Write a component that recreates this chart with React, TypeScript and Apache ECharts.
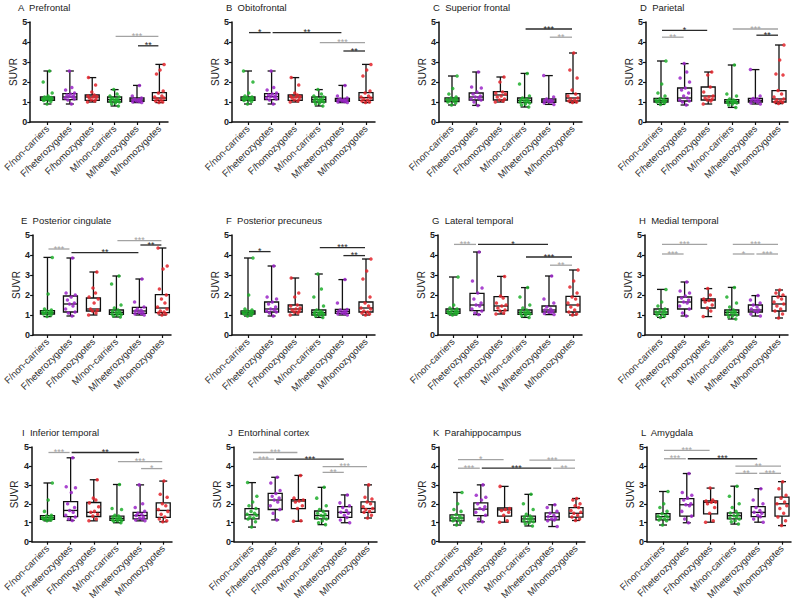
import React, { useEffect, useRef } from 'react';
import * as echarts from 'echarts';

const CATEGORIES = ['F/non-carriers', 'F/heterozygotes', 'F/homozygotes', 'M/non-carriers', 'M/heterozygotes', 'M/homozygotes'];
const GROUP_COLORS = ['#1fae2c', '#9b26c8', '#e3242b', '#1fae2c', '#9b26c8', '#e3242b'];
const TITLES = ['A  Prefrontal', 'B  Obitofrontal', 'C  Superior frontal', 'D  Parietal', 'E  Posterior cingulate', 'F  Posterior precuneus', 'G  Lateral temporal', 'H  Medial temporal', 'I  Inferior temporal', 'J  Entorhinal cortex', 'K  Parahippocampus', 'L  Amygdala'];
const Y_TICKS = [0, 1, 2, 3, 4, 5];

// box stats: [min, q1, median, q3, max]
const A_BOX = [[0.9, 1.08, 1.15, 1.25, 2.55], [0.9, 1.12, 1.25, 1.42, 2.55], [1.0, 1.08, 1.25, 1.35, 2.22], [0.8, 1.0, 1.12, 1.25, 1.62], [0.97, 1.03, 1.1, 1.2, 1.83], [0.97, 1.08, 1.2, 1.47, 2.88]];
const B_BOX = [[0.9, 1.08, 1.15, 1.25, 2.55], [0.9, 1.12, 1.27, 1.42, 2.55], [1.0, 1.08, 1.25, 1.35, 2.22], [0.8, 1.0, 1.12, 1.25, 1.62], [0.97, 1.03, 1.1, 1.18, 1.83], [0.97, 1.08, 1.22, 1.47, 2.88]];
const C_BOX = [[0.85, 1.02, 1.1, 1.2, 2.3], [0.83, 1.1, 1.25, 1.45, 2.5], [1.0, 1.1, 1.35, 1.52, 2.25], [0.75, 0.97, 1.08, 1.2, 2.43], [0.88, 0.98, 1.05, 1.15, 2.32], [0.97, 1.05, 1.2, 1.42, 3.45]];
const D_BOX = [[0.88, 1.0, 1.08, 1.18, 3.05], [0.85, 1.05, 1.2, 1.7, 2.92], [0.9, 1.1, 1.3, 1.75, 2.5], [0.73, 0.95, 1.02, 1.12, 2.85], [0.9, 1.0, 1.08, 1.18, 2.62], [0.92, 1.0, 1.15, 1.57, 3.85]];
const E_BOX = [[0.92, 1.05, 1.12, 1.22, 3.88], [0.95, 1.15, 1.55, 1.95, 3.85], [1.0, 1.2, 1.3, 1.85, 3.15], [0.9, 1.03, 1.13, 1.25, 2.95], [1.0, 1.08, 1.2, 1.38, 2.8], [1.0, 1.12, 1.35, 2.02, 4.35]];
const F_BOX = [[0.95, 1.05, 1.12, 1.2, 3.85], [0.95, 1.15, 1.3, 1.65, 3.45], [1.0, 1.15, 1.3, 1.5, 2.85], [0.88, 1.0, 1.12, 1.25, 3.05], [1.0, 1.08, 1.18, 1.28, 2.77], [1.0, 1.15, 1.35, 1.65, 3.8]];
const G_BOX = [[1.0, 1.08, 1.18, 1.3, 2.9], [1.02, 1.22, 1.5, 2.08, 4.15], [1.05, 1.22, 1.45, 1.92, 2.93], [0.88, 1.03, 1.13, 1.25, 2.37], [1.02, 1.15, 1.25, 1.45, 2.95], [1.0, 1.15, 1.5, 1.93, 3.25]];
const H_BOX = [[0.88, 1.03, 1.15, 1.3, 2.28], [0.95, 1.3, 1.65, 1.9, 2.65], [0.92, 1.35, 1.72, 1.8, 2.32], [0.8, 1.0, 1.13, 1.25, 2.38], [0.95, 1.15, 1.25, 1.5, 1.97], [0.85, 1.2, 1.55, 1.93, 2.25]];
const I_BOX = [[1.1, 1.18, 1.27, 1.38, 3.1], [1.12, 1.32, 1.65, 2.12, 4.43], [1.1, 1.33, 1.55, 2.07, 3.27], [1.0, 1.12, 1.23, 1.35, 3.02], [1.1, 1.2, 1.38, 1.55, 3.0], [1.05, 1.28, 1.65, 2.05, 3.2]];
const J_BOX = [[0.77, 1.2, 1.42, 1.75, 3.12], [1.15, 1.7, 2.2, 2.55, 3.4], [1.08, 1.75, 2.15, 2.22, 3.5], [0.9, 1.2, 1.38, 1.62, 2.87], [1.0, 1.28, 1.55, 1.85, 2.47], [1.25, 1.55, 1.75, 2.1, 3.0]];
const K_BOX = [[0.88, 1.1, 1.25, 1.42, 2.6], [1.05, 1.38, 1.72, 2.05, 3.0], [1.03, 1.35, 1.68, 1.78, 2.92], [0.83, 1.05, 1.2, 1.35, 2.5], [0.8, 1.15, 1.32, 1.52, 1.95], [1.12, 1.3, 1.5, 1.8, 2.28]];
const L_BOX = [[0.88, 1.15, 1.32, 1.48, 2.65], [1.0, 1.35, 1.95, 2.27, 3.6], [1.03, 1.47, 2.08, 2.15, 2.83], [0.93, 1.2, 1.37, 1.52, 2.93], [1.03, 1.32, 1.55, 1.85, 2.8], [0.85, 1.35, 2.0, 2.35, 3.17]];

// individual SUVR points per group
const A_PTS = [
  [0.9, 1.02, 1.08, 1.1, 1.12, 1.15, 1.15, 1.18, 1.2, 1.22, 1.25, 1.3, 1.45, 2.0, 2.55],
  [0.9, 1.1, 1.15, 1.2, 1.25, 1.28, 1.3, 1.35, 1.4, 1.45, 1.6, 1.72, 2.55],
  [1.0, 1.05, 1.1, 1.15, 1.2, 1.25, 1.28, 1.3, 1.35, 1.5, 1.85, 2.22],
  [0.8, 0.9, 0.95, 1.0, 1.02, 1.05, 1.08, 1.1, 1.12, 1.15, 1.2, 1.25, 1.3, 1.4, 1.62],
  [0.97, 1.0, 1.03, 1.05, 1.08, 1.1, 1.12, 1.15, 1.2, 1.3, 1.83],
  [0.97, 1.0, 1.05, 1.1, 1.15, 1.2, 1.25, 1.3, 1.45, 1.55, 2.4, 2.6, 2.88],
];
const B_PTS = [
  [0.9, 1.02, 1.08, 1.1, 1.12, 1.15, 1.17, 1.2, 1.22, 1.25, 1.3, 1.45, 2.0, 2.55],
  [0.9, 1.1, 1.15, 1.2, 1.25, 1.28, 1.3, 1.35, 1.4, 1.45, 1.6, 1.72, 2.55],
  [1.0, 1.05, 1.1, 1.15, 1.2, 1.25, 1.28, 1.3, 1.35, 1.45, 1.85, 2.22],
  [0.8, 0.9, 0.95, 1.0, 1.02, 1.05, 1.08, 1.1, 1.12, 1.15, 1.2, 1.25, 1.3, 1.4, 1.62],
  [0.97, 1.0, 1.03, 1.05, 1.08, 1.1, 1.12, 1.15, 1.2, 1.3, 1.83],
  [0.97, 1.0, 1.05, 1.1, 1.15, 1.2, 1.25, 1.3, 1.45, 1.55, 2.3, 2.6, 2.88],
];
const C_PTS = [
  [0.85, 0.95, 1.0, 1.05, 1.08, 1.1, 1.12, 1.15, 1.2, 1.25, 1.4, 1.68, 2.3],
  [0.83, 1.0, 1.1, 1.15, 1.2, 1.25, 1.3, 1.4, 1.5, 1.7, 1.75, 2.5],
  [1.0, 1.05, 1.1, 1.15, 1.25, 1.3, 1.4, 1.45, 1.5, 2.0, 2.25],
  [0.75, 0.85, 0.9, 0.95, 1.0, 1.02, 1.05, 1.08, 1.1, 1.15, 1.2, 1.3, 1.9, 2.43],
  [0.88, 0.95, 1.0, 1.02, 1.05, 1.08, 1.1, 1.15, 1.25, 2.32],
  [0.97, 1.0, 1.05, 1.1, 1.15, 1.2, 1.3, 1.4, 1.6, 2.2, 2.6, 3.45],
];
const D_PTS = [
  [0.88, 0.95, 1.0, 1.02, 1.05, 1.08, 1.1, 1.12, 1.18, 1.3, 1.45, 1.9, 3.05],
  [0.85, 1.0, 1.05, 1.1, 1.2, 1.3, 1.45, 1.6, 1.7, 2.0, 2.2, 2.5, 2.92],
  [0.9, 1.05, 1.1, 1.15, 1.2, 1.25, 1.3, 1.5, 1.75, 2.35, 2.5],
  [0.73, 0.85, 0.9, 0.95, 0.98, 1.0, 1.02, 1.05, 1.08, 1.1, 1.15, 1.3, 1.4, 2.85],
  [0.9, 0.95, 1.0, 1.05, 1.08, 1.1, 1.15, 1.18, 1.3, 2.62],
  [0.92, 0.97, 1.0, 1.05, 1.1, 1.15, 1.25, 1.4, 1.57, 2.35, 2.4, 3.1, 3.85],
];
const E_PTS = [
  [0.92, 1.0, 1.05, 1.08, 1.1, 1.12, 1.15, 1.18, 1.2, 1.25, 1.3, 2.05, 3.88],
  [0.95, 1.1, 1.15, 1.3, 1.45, 1.55, 1.6, 1.75, 1.9, 2.0, 2.1, 3.85],
  [1.0, 1.1, 1.2, 1.25, 1.3, 1.6, 1.8, 1.9, 2.1, 2.35, 3.15],
  [0.9, 0.95, 1.0, 1.03, 1.05, 1.1, 1.12, 1.15, 1.2, 1.25, 1.35, 1.5, 2.55, 2.95],
  [1.0, 1.05, 1.08, 1.12, 1.15, 1.2, 1.25, 1.3, 1.4, 1.65, 2.8],
  [1.0, 1.05, 1.1, 1.15, 1.2, 1.3, 1.4, 1.6, 1.8, 2.0, 2.3, 3.3, 3.45, 4.35],
];
const F_PTS = [
  [0.95, 1.0, 1.05, 1.08, 1.1, 1.12, 1.15, 1.18, 1.2, 1.25, 1.3, 2.0, 3.85],
  [0.95, 1.1, 1.15, 1.2, 1.25, 1.3, 1.4, 1.55, 1.65, 1.8, 1.9, 3.45],
  [1.0, 1.1, 1.15, 1.2, 1.25, 1.3, 1.35, 1.45, 1.5, 1.9, 2.1, 2.85],
  [0.88, 0.95, 1.0, 1.03, 1.05, 1.08, 1.1, 1.12, 1.15, 1.2, 1.25, 1.45, 1.9, 2.3, 3.05],
  [1.0, 1.05, 1.08, 1.1, 1.15, 1.18, 1.2, 1.25, 1.28, 1.6, 2.77],
  [1.0, 1.05, 1.1, 1.15, 1.2, 1.3, 1.35, 1.45, 1.6, 1.9, 2.8, 3.2, 3.8],
];
const G_PTS = [
  [1.0, 1.05, 1.08, 1.1, 1.12, 1.15, 1.18, 1.2, 1.25, 1.3, 1.35, 1.5, 2.9],
  [1.02, 1.1, 1.2, 1.3, 1.45, 1.5, 1.6, 1.8, 2.1, 2.35, 2.7, 4.15],
  [1.05, 1.1, 1.2, 1.25, 1.35, 1.45, 1.5, 1.6, 1.85, 1.95, 2.93],
  [0.88, 0.95, 1.0, 1.05, 1.08, 1.1, 1.13, 1.15, 1.2, 1.25, 1.35, 1.5, 1.9, 2.37],
  [1.02, 1.08, 1.12, 1.15, 1.2, 1.25, 1.3, 1.4, 1.6, 1.8, 2.95],
  [1.0, 1.05, 1.15, 1.25, 1.4, 1.5, 1.6, 1.8, 1.9, 2.1, 2.4, 2.7, 3.25],
];
const H_PTS = [
  [0.88, 0.95, 1.0, 1.05, 1.1, 1.13, 1.15, 1.2, 1.25, 1.3, 1.45, 1.65, 2.28],
  [0.95, 1.1, 1.3, 1.45, 1.6, 1.65, 1.75, 1.85, 1.95, 2.1, 2.2, 2.65],
  [0.92, 1.2, 1.35, 1.5, 1.65, 1.72, 1.75, 1.8, 2.0, 2.32],
  [0.8, 0.9, 0.95, 1.0, 1.05, 1.1, 1.13, 1.15, 1.2, 1.25, 1.4, 1.6, 1.9, 2.38],
  [0.95, 1.05, 1.15, 1.2, 1.25, 1.3, 1.4, 1.5, 1.6, 1.75, 1.97],
  [0.85, 1.05, 1.2, 1.3, 1.45, 1.55, 1.65, 1.8, 1.9, 2.0, 2.1, 2.25],
];
const I_PTS = [
  [1.1, 1.15, 1.18, 1.2, 1.22, 1.25, 1.27, 1.3, 1.35, 1.4, 1.6, 2.2, 3.1],
  [1.12, 1.2, 1.3, 1.4, 1.55, 1.65, 1.8, 2.0, 2.6, 2.85, 2.9, 4.43],
  [1.1, 1.2, 1.35, 1.45, 1.55, 1.6, 1.85, 2.05, 2.2, 2.3, 3.27],
  [1.0, 1.08, 1.1, 1.12, 1.15, 1.2, 1.23, 1.25, 1.3, 1.35, 1.4, 1.7, 1.75, 3.02],
  [1.1, 1.15, 1.2, 1.25, 1.3, 1.38, 1.45, 1.5, 1.6, 1.8, 2.0, 3.0],
  [1.05, 1.1, 1.2, 1.3, 1.45, 1.6, 1.7, 1.9, 2.0, 2.35, 2.5, 3.2],
];
const J_PTS = [
  [0.77, 1.05, 1.2, 1.25, 1.3, 1.4, 1.45, 1.5, 1.6, 1.75, 1.9, 2.1, 2.4, 3.12],
  [1.15, 1.5, 1.7, 1.9, 2.1, 2.2, 2.3, 2.4, 2.55, 2.7, 3.1, 3.4],
  [1.08, 1.1, 1.75, 1.9, 2.1, 2.15, 2.2, 2.3, 3.5],
  [0.9, 1.0, 1.1, 1.2, 1.25, 1.3, 1.38, 1.45, 1.5, 1.6, 1.7, 1.9, 2.3, 2.87],
  [1.0, 1.15, 1.28, 1.4, 1.5, 1.55, 1.65, 1.8, 1.9, 2.05, 2.47],
  [1.25, 1.4, 1.55, 1.6, 1.7, 1.75, 1.85, 2.0, 2.1, 2.25, 2.35, 3.0],
];
const K_PTS = [
  [0.88, 1.0, 1.1, 1.15, 1.2, 1.25, 1.3, 1.35, 1.42, 1.6, 1.7, 2.0, 2.6],
  [1.05, 1.2, 1.4, 1.55, 1.7, 1.75, 1.85, 2.0, 2.2, 2.35, 2.45, 3.0],
  [1.03, 1.1, 1.4, 1.55, 1.65, 1.7, 1.75, 2.92],
  [0.83, 0.95, 1.0, 1.05, 1.1, 1.15, 1.2, 1.25, 1.3, 1.35, 1.45, 1.7, 2.0, 2.5],
  [0.8, 1.1, 1.15, 1.2, 1.25, 1.32, 1.4, 1.5, 1.6, 1.8, 1.95],
  [1.12, 1.2, 1.3, 1.4, 1.5, 1.55, 1.65, 1.8, 1.9, 2.0, 2.2, 2.28],
];
const L_PTS = [
  [0.88, 1.1, 1.15, 1.2, 1.25, 1.3, 1.35, 1.4, 1.48, 1.6, 1.8, 2.0, 2.65],
  [1.0, 1.2, 1.35, 1.6, 1.9, 1.95, 2.0, 2.2, 2.3, 2.45, 2.6, 3.6],
  [1.03, 1.1, 1.5, 1.8, 2.0, 2.08, 2.1, 2.15, 2.2, 2.83],
  [0.93, 1.05, 1.1, 1.2, 1.25, 1.3, 1.37, 1.45, 1.52, 1.6, 1.8, 2.0, 2.4, 2.93],
  [1.03, 1.2, 1.32, 1.4, 1.5, 1.55, 1.65, 1.8, 2.0, 2.2, 2.8],
  [0.85, 1.1, 1.3, 1.5, 1.75, 1.9, 2.0, 2.1, 2.3, 2.45, 2.8, 3.17],
];

// significance brackets: [fromGroup, toGroup, y, stars, dark(1)/grey(0)]
const A_SIG = [[3, 5, 4.28, '***', 0], [4, 5, 3.81, '**', 1]];
const B_SIG = [[0, 1, 4.47, '*', 1], [1, 4, 4.47, '**', 1], [3, 5, 3.97, '***', 0], [4, 5, 3.55, '**', 1]];
const C_SIG = [[3, 5, 4.65, '***', 1], [4, 5, 4.24, '**', 0]];
const D_SIG = [[0, 1, 4.24, '**', 0], [0, 2, 4.58, '*', 1], [3, 5, 4.65, '***', 0], [4, 5, 4.34, '**', 1]];
const E_SIG = [[0, 1, 4.3, '***', 0], [1, 4, 4.12, '**', 1], [3, 5, 4.72, '***', 0], [4, 5, 4.5, '**', 1]];
const F_SIG = [[0, 1, 4.17, '*', 1], [3, 5, 4.37, '***', 1], [4, 5, 3.97, '**', 1]];
const G_SIG = [[0, 1, 4.53, '***', 0], [1, 4, 4.53, '*', 1], [3, 5, 3.9, '***', 1], [4, 5, 3.49, '**', 0]];
const H_SIG = [[0, 2, 4.53, '***', 0], [0, 1, 4.05, '***', 0], [3, 5, 4.53, '***', 0], [3, 4, 4.05, '*', 0], [4, 5, 4.05, '***', 0]];
const I_SIG = [[0, 1, 4.71, '***', 0], [1, 4, 4.71, '**', 1], [3, 5, 4.23, '***', 0], [4, 5, 3.86, '*', 0]];
const J_SIG = [[0, 2, 4.71, '***', 0], [0, 1, 4.36, '***', 0], [1, 4, 4.36, '***', 1], [3, 5, 3.96, '***', 0], [3, 4, 3.66, '**', 0]];
const K_SIG = [[0, 2, 4.33, '*', 0], [0, 1, 3.88, '***', 0], [1, 4, 3.88, '***', 1], [3, 5, 4.31, '***', 0], [4, 5, 3.88, '**', 0]];
const L_SIG = [[0, 2, 4.82, '***', 0], [0, 1, 4.38, '***', 0], [1, 4, 4.38, '***', 1], [3, 5, 3.99, '**', 0], [3, 4, 3.61, '**', 0], [4, 5, 3.61, '***', 0]];

const BOXES = [A_BOX, B_BOX, C_BOX, D_BOX, E_BOX, F_BOX, G_BOX, H_BOX, I_BOX, J_BOX, K_BOX, L_BOX];
const POINTS = [A_PTS, B_PTS, C_PTS, D_PTS, E_PTS, F_PTS, G_PTS, H_PTS, I_PTS, J_PTS, K_PTS, L_PTS];
const SIGS = [A_SIG, B_SIG, C_SIG, D_SIG, E_SIG, F_SIG, G_SIG, H_SIG, I_SIG, J_SIG, K_SIG, L_SIG];

// layout (pixels)
const AXIS_X = [24, 232, 439, 646, 27, 232, 438, 645, 28, 234, 439, 647];
const FIRST_X = [42, 248, 452, 661, 42, 248, 453, 661, 44, 252, 457, 663];
const LAST_X = [159, 366, 573, 779, 162, 366, 573, 779, 163, 368, 576, 782];
const ROW_TOP = [22, 235, 447];
const PLOT_H = 100;
const END_GAP = 9;
// horizontal jitter offsets (in category units) for the dots
const JITTER = [-0.02, 0.15, -0.17, 0.07, -0.09, 0.2, -0.21, 0.11, -0.04, 0.17, -0.13, 0.03, 0.21, -0.19, 0.09];

const FONT = "'Liberation Sans', Arial, Helvetica, sans-serif";

function buildOption() {
  const grid: any[] = [];
  const xAxis: any[] = [];
  const yAxis: any[] = [];
  const graphic: any[] = [];
  const series: any[] = [];

  for (let p = 0; p < 12; p++) {
    const row = Math.floor(p / 4);
    const s = (LAST_X[p] - FIRST_X[p]) / 5;
    const xmin = -(FIRST_X[p] - AXIS_X[p]) / s;
    const xmax = 5 + END_GAP / s;
    const width = LAST_X[p] + END_GAP - AXIS_X[p];
    grid.push({ left: AXIS_X[p], top: ROW_TOP[row], width, height: PLOT_H, containLabel: false });
    graphic.push({
      type: 'text',
      x: AXIS_X[p] - 6,
      y: ROW_TOP[row] - 20,
      silent: true,
      style: { text: TITLES[p], fontSize: 9.5, fill: '#222', fontFamily: FONT, align: 'left', verticalAlign: 'top' },
    });
    xAxis.push({
      type: 'value',
      gridIndex: p,
      min: xmin,
      max: xmax,
      axisLine: { show: true, onZero: false, lineStyle: { color: '#111', width: 1.5 } },
      axisTick: { show: true, length: 3, customValues: [0, 1, 2, 3, 4, 5], lineStyle: { color: '#111', width: 1.2 } },
      splitLine: { show: false },
      axisLabel: {
        customValues: [0, 1, 2, 3, 4, 5],
        formatter: (v: number) => CATEGORIES[Math.round(v)] ?? '',
        rotate: 45,
        fontSize: 9.5,
        color: '#333',
        margin: 5,
        fontFamily: FONT,
      },
    });
    yAxis.push({
      type: 'value',
      gridIndex: p,
      min: Y_TICKS[0],
      max: Y_TICKS[Y_TICKS.length - 1],
      interval: 1,
      name: 'SUVR',
      nameLocation: 'middle',
      nameGap: 12,
      nameTextStyle: { fontSize: 10, color: '#222', fontFamily: FONT },
      axisLine: { show: true, onZero: false, lineStyle: { color: '#111', width: 1.5 } },
      axisTick: { show: true, length: 3, lineStyle: { color: '#111', width: 1.2 } },
      splitLine: { show: false },
      axisLabel: { fontSize: 9, fontWeight: 'bold', color: '#222', margin: 3, fontFamily: FONT },
    });

    const boxData = BOXES[p].map((b, i) => [i, b[0], b[1], b[2], b[3], b[4]]);
    series.push({
      type: 'custom',
      xAxisIndex: p,
      yAxisIndex: p,
      z: 2,
      silent: true,
      encode: { x: 0, y: [1, 2, 3, 4, 5] },
      data: boxData,
      renderItem: (params: any, api: any) => {
        const x = api.value(0);
        const pMin = api.coord([x, api.value(1)]);
        const pQ1 = api.coord([x, api.value(2)]);
        const pMed = api.coord([x, api.value(3)]);
        const pQ3 = api.coord([x, api.value(4)]);
        const pMax = api.coord([x, api.value(5)]);
        const cx = pMin[0];
        const hw = 7;
        const cw = 4;
        const st = { stroke: '#111', lineWidth: 1.3, fill: 'none' };
        return {
          type: 'group',
          children: [
            { type: 'line', shape: { x1: cx, y1: pMax[1], x2: cx, y2: pQ3[1] }, style: st },
            { type: 'line', shape: { x1: cx, y1: pQ1[1], x2: cx, y2: pMin[1] }, style: st },
            { type: 'line', shape: { x1: cx - cw, y1: pMax[1], x2: cx + cw, y2: pMax[1] }, style: st },
            { type: 'line', shape: { x1: cx - cw, y1: pMin[1], x2: cx + cw, y2: pMin[1] }, style: st },
            { type: 'rect', shape: { x: cx - hw, y: pQ3[1], width: 2 * hw, height: pQ1[1] - pQ3[1] }, style: st },
            { type: 'line', shape: { x1: cx - hw, y1: pMed[1], x2: cx + hw, y2: pMed[1] }, style: st },
          ],
        };
      },
    });

    const pts: any[] = [];
    POINTS[p].forEach((vals, g) => {
      vals.forEach((v, k) => {
        pts.push([g + JITTER[(k + g * 3) % JITTER.length], v, g]);
      });
    });
    series.push({
      type: 'scatter',
      xAxisIndex: p,
      yAxisIndex: p,
      z: 3,
      silent: true,
      symbol: 'circle',
      symbolSize: 3.5,
      data: pts,
      itemStyle: { color: (d: any) => GROUP_COLORS[d.data[2]], opacity: 0.85 },
    });

    const sig = SIGS[p];
    series.push({
      type: 'custom',
      xAxisIndex: p,
      yAxisIndex: p,
      z: 4,
      silent: true,
      encode: { x: 0, y: 1 },
      data: sig.map((b) => [b[0], b[2]]),
      renderItem: (params: any, api: any) => {
        const b: any = sig[params.dataIndex];
        const p1 = api.coord([b[0], b[2]]);
        const p2 = api.coord([b[1], b[2]]);
        const color = b[4] ? '#2a2a2a' : '#a3a3a3';
        return {
          type: 'group',
          children: [
            { type: 'line', shape: { x1: p1[0] + 1, y1: p1[1], x2: p2[0] - 1, y2: p2[1] }, style: { stroke: color, lineWidth: 1.3 } },
            {
              type: 'text',
              style: {
                text: b[3],
                x: (p1[0] + p2[0]) / 2,
                y: p1[1] - 0.5,
                fill: color,
                fontSize: 9,
                fontFamily: FONT,
                align: 'center',
                verticalAlign: 'middle',
              },
            },
          ],
        };
      },
    });
  }

  return { animation: false, backgroundColor: '#ffffff', graphic, grid, xAxis, yAxis, series };
}

export default function App() {
  const ref = useRef<HTMLDivElement>(null);
  useEffect(() => {
    if (!ref.current) return;
    const chart = echarts.init(ref.current, undefined, { renderer: 'svg' });
    chart.setOption(buildOption() as any);
    return () => chart.dispose();
  }, []);
  return <div ref={ref} style={{ position: 'fixed', left: 0, top: 0, width: 800, height: 602, background: '#fff' }} />;
}
